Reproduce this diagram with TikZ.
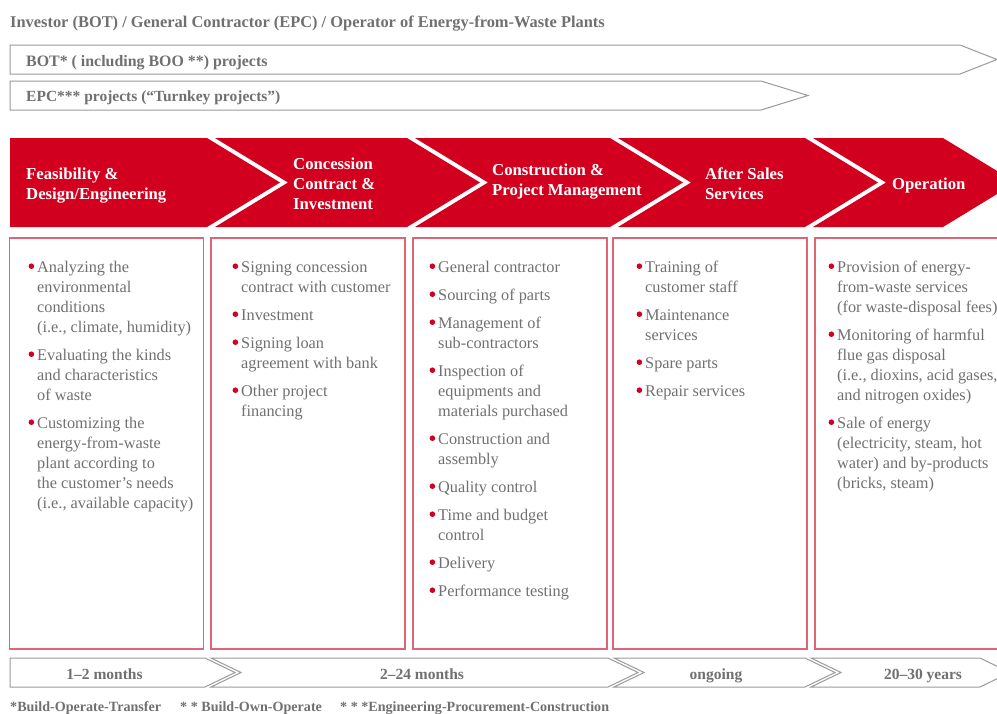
\documentclass[tikz,border=0pt]{standalone}
\usepackage{fontspec}
\setmainfont{Liberation Serif}
\definecolor{wred}{HTML}{D2001E}
\definecolor{bred}{HTML}{DE6478}
\definecolor{tgrey}{HTML}{707070}
\definecolor{lgrey}{HTML}{9A9A9A}
\newcommand{\bul}{\strut\llap{\tikz[baseline=0pt]\fill[wred] (0pt,6pt) circle[radius=2.8pt];\hspace{3pt}}}
\tikzset{
  headtxt/.style={font=\fontsize{15.9}{18}\selectfont\bfseries, text=tgrey, anchor=base west, inner sep=0pt},
  titletxt/.style={font=\fontsize{16.4}{18}\selectfont\bfseries, text=tgrey, anchor=base west, inner sep=0pt},
  stagetxt/.style={font=\fontsize{16.7}{20}\selectfont\bfseries, text=white, align=left, anchor=north west, inner sep=0pt},
  chev/.style={fill=wred, draw=none},
  listbox/.style={draw=bred, line width=1.3pt},
  outline/.style={draw=lgrey, line width=1pt, fill=white, line join=miter},
  listtxt/.style={font=\fontsize{16.3}{20}\selectfont, text=tgrey, align=left, anchor=north west, inner sep=0pt},
  durtxt/.style={font=\fontsize{15.5}{18}\selectfont\bfseries, text=tgrey, anchor=base, inner sep=0pt},
  foottxt/.style={font=\fontsize{14.1}{15}\selectfont\bfseries, text=tgrey, anchor=base west, inner sep=0pt}
}
\begin{document}
\begin{tikzpicture}[x=1pt,y=-1pt]
\useasboundingbox (0,0) rectangle (997,713);
\clip (0,0) rectangle (997,713);

% title
\node[titletxt] (title) at (10,27) {Investor (BOT) / General Contractor (EPC) / Operator of Energy-from-Waste Plants};

% top arrows
\draw[outline] (10,45) -- (960,45) -- (997,59.5) -- (960,74) -- (10,74) -- cycle;
\node[headtxt] (bot) at (26,66) {BOT* ( including BOO **) projects};
\draw[outline] (10,81) -- (761,81) -- (808,95.5) -- (761,110) -- (10,110) -- cycle;
\node[headtxt, font=\fontsize{15.5}{18}\selectfont\bfseries] (epc) at (26,101.5) {EPC*** projects (“Turnkey projects”)};

% red chevrons
\fill[chev] (10,138) -- (207,138) -- (280,182.5) -- (207,227) -- (10,227) -- cycle;
\fill[chev] (215,138) -- (407,138) -- (480,182.5) -- (407,227) -- (215,227) -- (288,182.5) -- cycle;
\fill[chev] (415,138) -- (610,138) -- (683,182.5) -- (610,227) -- (415,227) -- (488,182.5) -- cycle;
\fill[chev] (618,138) -- (805,138) -- (878,182.5) -- (805,227) -- (618,227) -- (691,182.5) -- cycle;
\fill[chev] (813,138) -- (943,138) -- (1016,182.5) -- (943,227) -- (813,227) -- (886,182.5) -- cycle;

\node[stagetxt] (s1) at (26,165) {\strut Feasibility \&\\Design/Engineering};
\node[stagetxt] (s2) at (293,155) {\strut Concession\\Contract \&\\Investment};
\node[stagetxt] (s3) at (492,161.5) {\strut Construction \&\\Project Management};
\node[stagetxt] (s4) at (705,165) {\strut After Sales\\Services};
\node[stagetxt] (s5) at (892,175) {\strut Operation};

% list boxes
\draw[listbox] (9.5,238) rectangle (203.5,649);
\draw[listbox] (211,238) rectangle (405,649);
\draw[listbox] (413,238) rectangle (607,649);
\draw[listbox] (613,238) rectangle (807,649);
\draw[listbox] (815,238) rectangle (1010,649);

\node[listtxt] (l1) at (37,258) {\bul Analyzing the\\environmental\\conditions\\(i.e., climate, humidity)\\[8pt]
\bul Evaluating the kinds\\and characteristics\\of waste\\[8pt]
\bul Customizing the\\energy-from-waste\\plant according to\\the customer’s needs\\(i.e., available capacity)};

\node[listtxt] (l2) at (241,258) {\bul Signing concession\\contract with customer\\[8pt]
\bul Investment\\[8pt]
\bul Signing loan\\agreement with bank\\[8pt]
\bul Other project\\financing};

\node[listtxt] (l3) at (438,258) {\bul General contractor\\[8pt]
\bul Sourcing of parts\\[8pt]
\bul Management of\\sub-contractors\\[8pt]
\bul Inspection of\\equipments and\\materials purchased\\[8pt]
\bul Construction and\\assembly\\[8pt]
\bul Quality control\\[8pt]
\bul Time and budget\\control\\[8pt]
\bul Delivery\\[8pt]
\bul Performance testing};

\node[listtxt] (l4) at (645,258) {\bul Training of\\customer staff\\[8pt]
\bul Maintenance\\services\\[8pt]
\bul Spare parts\\[8pt]
\bul Repair services};

\node[listtxt] (l5) at (837,258) {\bul Provision of energy-\\from-waste services\\(for waste-disposal fees)\\[8pt]
\bul Monitoring of harmful\\flue gas disposal\\(i.e., dioxins, acid gases,\\and nitrogen oxides)\\[8pt]
\bul Sale of energy\\(electricity, steam, hot\\water) and by-products\\(bricks, steam)};

% duration arrows
\draw[outline] (10,658) -- (205,658) -- (235,672.5) -- (205,687) -- (10,687) -- cycle;
\draw[outline] (211,658) -- (608,658) -- (638,672.5) -- (608,687) -- (211,687) -- (241,672.5) -- cycle;
\draw[outline] (614,658) -- (805,658) -- (835,672.5) -- (805,687) -- (614,687) -- (644,672.5) -- cycle;
\draw[outline] (811,658) -- (980,658) -- (1010,672.5) -- (980,687) -- (811,687) -- (841,672.5) -- cycle;

\node[durtxt] (d1) at (104.5,679) {1–2 months};
\node[durtxt] (d2) at (422,679) {2–24 months};
\node[durtxt] (d3) at (716,679) {ongoing};
\node[durtxt] (d4) at (923,679) {20–30 years};

% footnotes
\node[foottxt] (f1) at (10,711) {*Build-Operate-Transfer};
\node[foottxt] (f2) at (180,711) {* * Build-Own-Operate};
\node[foottxt] (f3) at (340,711) {* * *Engineering-Procurement-Construction};
\end{tikzpicture}
\end{document}
